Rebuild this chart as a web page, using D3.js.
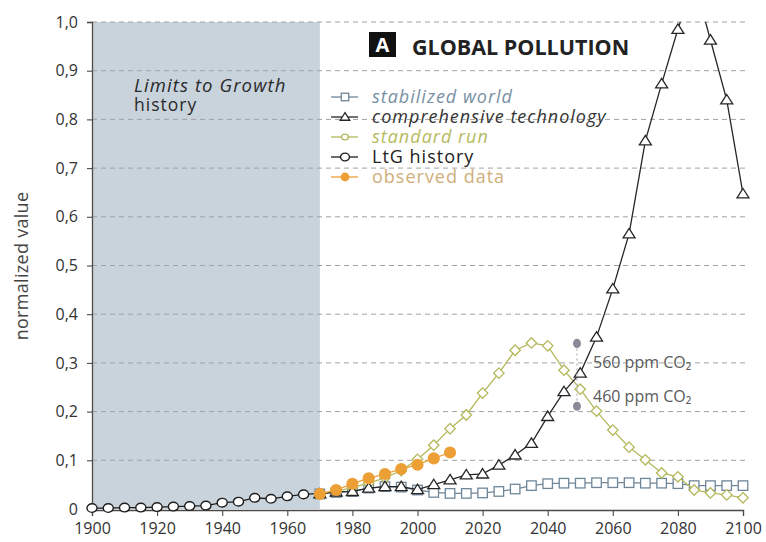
<!DOCTYPE html>
<html><head><meta charset="utf-8">
<script src="https://cdn.jsdelivr.net/npm/d3@7"></script>
<style>body{margin:0;background:#fff}svg{display:block;font-family:"Open Sans",sans-serif}</style>
</head><body><svg id="c" width="766" height="542"></svg>
<script>
// ---- data ----
const ltgYears = [1900,1905,1910,1915,1920,1925,1930,1935,1940,1945,1950,1955,1960,1965,1970];
const ltgValues = [0.002,0.002,0.003,0.003,0.004,0.005,0.006,0.007,0.013,0.015,0.023,0.021,0.026,0.030,0.032];
const scenarioYears = [1970,1975,1980,1985,1990,1995,2000,2005,2010,2015,2020,2025,2030,2035,2040,2045,2050,2055,2060,2065,2070,2075,2080,2085,2090,2095,2100];
const stabilizedValues = [0.031,0.034,0.036,0.043,0.046,0.045,0.039,0.034,0.032,0.032,0.033,0.036,0.041,0.048,0.052,0.053,0.053,0.054,0.054,0.054,0.053,0.053,0.052,0.048,0.048,0.048,0.048];
const comprehensiveValues = [0.031,0.035,0.036,0.043,0.046,0.046,0.040,0.050,0.060,0.070,0.072,0.090,0.111,0.135,0.190,0.241,0.279,0.353,0.452,0.565,0.756,0.873,0.985,1.086,0.963,0.840,0.647];
const standardValues = [0.031,0.036,0.044,0.053,0.064,0.079,0.102,0.131,0.165,0.193,0.238,0.279,0.326,0.341,0.335,0.285,0.246,0.201,0.162,0.127,0.101,0.074,0.066,0.039,0.033,0.029,0.023];
const observedYears = [1970,1975,1980,1985,1990,1995,2000,2005,2010];
const observedValues = [0.031,0.039,0.052,0.063,0.072,0.082,0.091,0.104,0.116];
const co2Years = [2049,2049];
const co2Values = [0.34,0.211];
const co2Labels = ["560 ppm CO\u2082","460 ppm CO\u2082"];
const co2LabelValues = [0.30,0.232];
const yTicks = [0,0.1,0.2,0.3,0.4,0.5,0.6,0.7,0.8,0.9,1.0];
const yTickLabels = ["0","0,1","0,2","0,3","0,4","0,5","0,6","0,7","0,8","0,9","1,0"];
const xTicks = [1900,1920,1940,1960,1980,2000,2020,2040,2060,2080,2100];
const historyEnd = 1970;
const legendLabels = ["stabilized world","comprehensive technology","standard run","LtG history","observed data"];

// ---- layout ----
const svg = d3.select("#c");
const x = d3.scaleLinear().domain([1900,2100]).range([92,743]);
const y = d3.scaleLinear().domain([0,1]).range([509,22]);

const C = {
  stab:"#6f8698", comp:"#262626", std:"#b3b85a", ltg:"#1e1e1e", obs:"#eb9f34",
  stabText:"#7890a4", stdText:"#b6ba5e", obsText:"#cfae7a"
};

svg.append("defs").append("clipPath").attr("id","clip")
  .append("rect").attr("x",0).attr("y",y(1)).attr("width",766).attr("height",520);

// shaded history
svg.append("rect").attr("x",x(1900)).attr("y",y(1)).attr("width",x(historyEnd)-x(1900))
  .attr("height",y(0)-y(1)).attr("fill","#c9d3dc");

// grid
svg.append("g").selectAll("line").data(yTicks.filter(d=>d>0)).join("line")
  .attr("x1",x(1900)).attr("x2",746).attr("y1",d=>y(d)).attr("y2",d=>y(d))
  .attr("stroke","#a2a2a2").attr("stroke-width",1).attr("stroke-dasharray","5,4");

// axes
const ax = svg.append("g").attr("transform",`translate(0,${y(0)+1})`)
  .call(d3.axisBottom(x).tickValues(xTicks).tickFormat(d3.format("d")).tickSize(6).tickPadding(4));
const ay = svg.append("g").attr("transform",`translate(${x(1900)},0)`)
  .call(d3.axisLeft(y).tickValues(yTicks).tickFormat((d,i)=>yTickLabels[i]).tickSize(5).tickPadding(9));
[ax,ay].forEach(g=>{
  g.select(".domain").attr("stroke","#4a4a4a").attr("stroke-width",1.3);
  g.selectAll(".tick line").attr("stroke","#4a4a4a").attr("stroke-width",1.1);
  g.selectAll("text").attr("fill","#333").attr("font-size",16).attr("font-family","'Open Sans',sans-serif");
});
ax.selectAll("text").attr("dy","0.9em");

svg.append("text").attr("transform",`translate(28,266) rotate(-90)`)
  .attr("text-anchor","middle").attr("font-size",18).attr("letter-spacing",0.3).attr("fill","#444").text("normalized value");

// markers
function marker(g, type, color, s){
  const sel = g;
  if(type==="circle"){
    sel.append("ellipse").attr("rx",s*0.56).attr("ry",s*0.48).attr("fill","#fff").attr("stroke",color).attr("stroke-width",1.4);
  } else if(type==="square"){
    sel.append("rect").attr("x",-s/2).attr("y",-s/2).attr("width",s).attr("height",s).attr("fill","#fff").attr("stroke",color).attr("stroke-width",1.3);
  } else if(type==="triangle"){
    const h = s*0.9;
    sel.append("path").attr("d",`M0,${-h*0.6}L${s*0.6},${h*0.45}L${-s*0.6},${h*0.45}Z`).attr("fill","#fff").attr("stroke",color).attr("stroke-width",1.3);
  } else if(type==="diamond"){
    const a=s*0.58;
    sel.append("path").attr("d",`M0,${-a}L${a},0L0,${a}L${-a},0Z`).attr("fill","#fff").attr("stroke",color).attr("stroke-width",1.3);
  } else if(type==="dot"){
    sel.append("circle").attr("r",s*0.55).attr("fill",color);
  }
}

function series(years, values, color, type, size, clip){
  const pts = years.map((yr,i)=>({x:yr,v:values[i]}));
  const g = svg.append("g");
  g.append("path").datum(pts)
    .attr("d",d3.line().x(d=>x(d.x)).y(d=>y(d.v)))
    .attr("fill","none").attr("stroke",color).attr("stroke-width",1.3)
    .attr("clip-path",clip?"url(#clip)":null);
  g.selectAll("g").data(pts.filter(d=>d.v<=1)).join("g")
    .attr("transform",d=>`translate(${x(d.x)},${y(d.v)})`)
    .each(function(){ marker(d3.select(this), type, color, size); });
}

series(ltgYears, ltgValues, C.ltg, "circle", 9);
series(scenarioYears, stabilizedValues, C.stab, "square", 9.5);
series(scenarioYears, standardValues, C.std, "diamond", 9);
series(scenarioYears, comprehensiveValues, C.comp, "triangle", 10, true);
series(observedYears, observedValues, C.obs, "dot", 11);

// CO2 annotation
svg.append("line").attr("x1",x(co2Years[0])).attr("x2",x(co2Years[1]))
  .attr("y1",y(co2Values[0])).attr("y2",y(co2Values[1]))
  .attr("stroke","#b0b0b8").attr("stroke-width",1.2).attr("stroke-dasharray","2,3");
svg.selectAll(".co2dot").data(co2Values).join("ellipse").attr("class","co2dot")
  .attr("cx",(d,i)=>x(co2Years[i])).attr("cy",d=>y(d)).attr("rx",4).attr("ry",4.6).attr("fill","#8c8a96");
svg.selectAll(".co2lab").data(co2Labels).join("text").attr("class","co2lab")
  .attr("x",(d,i)=>x(co2Years[i])+16).attr("y",(d,i)=>y(co2LabelValues[i])+5.5)
  .attr("font-size",16).attr("fill","#5a5a5a").text(d=>d);

// history label
const hl = svg.append("text").attr("x",134).attr("y",92).attr("font-size",17.5).attr("letter-spacing",1.0).attr("fill","#2a2a2a");
hl.append("tspan").attr("font-style","italic").attr("font-size",18.5).attr("letter-spacing",1.1).text("Limits to Growth");
hl.append("tspan").attr("x",134).attr("dy",19).text("history");

// title
svg.append("rect").attr("x",369).attr("y",32).attr("width",27).attr("height",25).attr("fill","#111");
svg.append("text").attr("x",382.5).attr("y",52).attr("text-anchor","middle").attr("font-weight","bold")
  .attr("font-size",20).attr("fill","#fff").text("A");
svg.append("text").attr("x",412).attr("y",55).attr("font-weight","bold").attr("font-size",21.5)
  .attr("fill","#222").text("GLOBAL POLLUTION");

// legend
const legTypes = ["square","triangle","circle","circle","dot"];
const legColors = [C.stab,C.comp,C.std,C.ltg,C.obs];
const legText = [C.stabText,"#333",C.stdText,"#222",C.obsText];
const legItalic = [true,true,true,false,false];
const legSizes = [7.5,8,6,8,8];
legendLabels.forEach((lab,i)=>{
  const cy = 97 + i*20;
  const g = svg.append("g");
  g.append("line").attr("x1",331).attr("x2",358).attr("y1",cy).attr("y2",cy).attr("stroke",legColors[i]).attr("stroke-width",1.3);
  const m = g.append("g").attr("transform",`translate(345,${cy})`);
  marker(m, legTypes[i], legColors[i], legSizes[i]);
  const t = g.append("text").attr("x",372).attr("y",cy+5.5).attr("font-size",18).attr("letter-spacing",1.0).attr("fill",legText[i]).text(lab);
  if(legItalic[i]) t.attr("font-style","italic");
});
</script></body></html>
